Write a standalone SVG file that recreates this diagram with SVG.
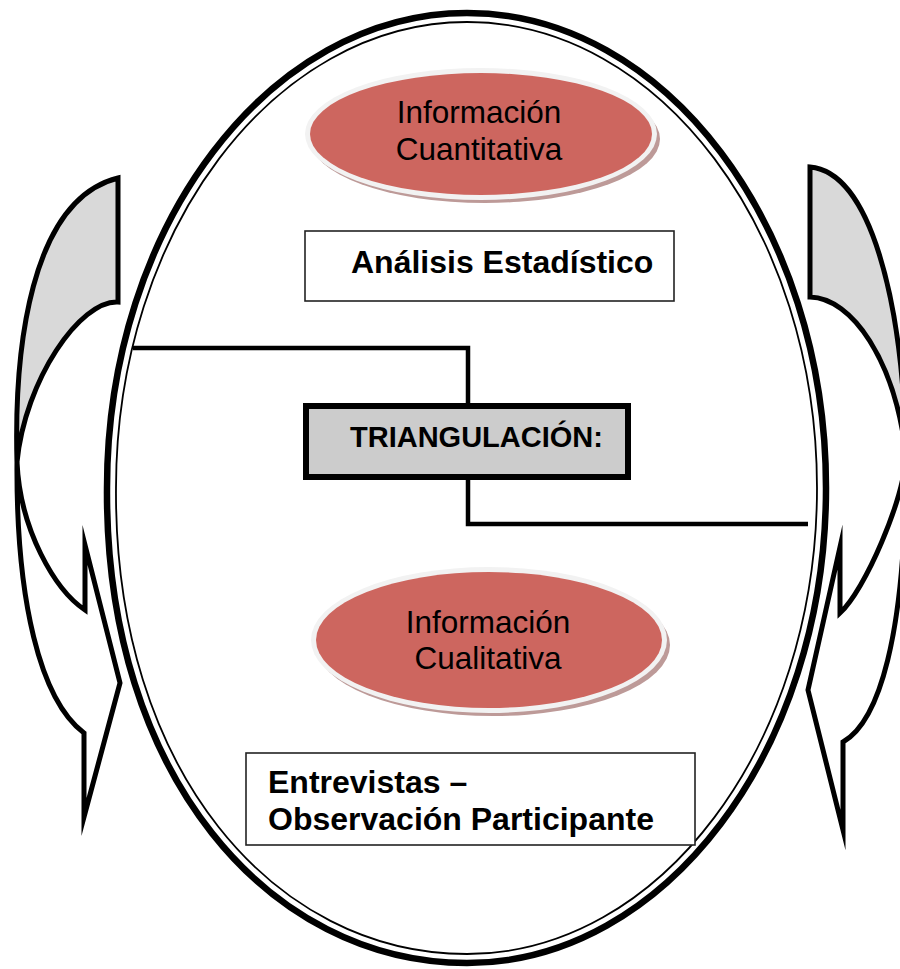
<svg xmlns="http://www.w3.org/2000/svg" width="900" height="969" viewBox="0 0 900 969">
<style>
.arrowShape{stroke:#000;stroke-width:5;stroke-linejoin:miter;stroke-miterlimit:10}
.back{fill:#d9d9d9}
.front{fill:#fff}
.shadow{fill:#bd9a98}
.rim{fill:#f2f2f2}
.red{fill:#cd665f}
.reg{font-family:"Liberation Sans",Arial,sans-serif;font-size:31.5px;fill:#000;text-anchor:middle}
.bold{font-family:"Liberation Sans",Arial,sans-serif;font-weight:bold;fill:#000}
.box{fill:#fff;stroke:#222;stroke-width:1.6}
.conn{fill:none;stroke:#000;stroke-width:4.5}
</style>
<rect width="900" height="969" fill="#fff"/>

<g id="left-arrow">
  <path class="arrowShape back" d="M118,178 L118,302 C80,300 25,380 17,462 C14,350 30,200 118,178 Z"/>
  <path class="arrowShape front" d="M17,462 C20,530 55,590 85,610 L85,545 L120,683 L84,817 L84,733 C40,700 16,600 17,462 Z"/>
</g>

<g id="right-arrow">
  <path class="arrowShape back" d="M810,167 L810,297 C852,298 895,360 906,455 C903,300 870,172 810,167 Z"/>
  <path class="arrowShape front" d="M906,455 C904,500 865,590 840,613 L840,547 L808,690 L843,830 L843,742 C878,722 906,640 906,455 Z"/>
</g>

<g id="outer-oval">
  <path d="M467,13 C665,13 826,226 826,488 C826,750 665,963 467,963 C269,963 105,775 107,488 C107,226 269,13 467,13 Z" fill="#fff" stroke="#000" stroke-width="6.5"/>
  <path d="M467,22 C660,22 817,231 817,488 C817,745 660,954 467,954 C274,954 114,770 116,488 C116,231 274,22 467,22 Z" fill="none" stroke="#000" stroke-width="1.8"/>
</g>

<g id="connectors">
  <polyline class="conn" points="133,348 468,348 468,405"/>
  <polyline class="conn" points="468,478 468,524 808,524"/>
</g>

<g id="info-cuantitativa">
  <ellipse class="shadow" cx="485" cy="139" rx="175" ry="64"/>
  <ellipse class="rim" cx="481" cy="134" rx="176" ry="66"/>
  <ellipse class="red" cx="481" cy="134" rx="171" ry="61"/>
  <text class="reg" x="479" y="123">Información</text>
  <text class="reg" x="479" y="160">Cuantitativa</text>
</g>

<g id="analisis-estadistico">
  <rect class="box" x="305" y="231" width="369" height="70"/>
  <text class="bold" x="351" y="273" font-size="32">Análisis Estadístico</text>
</g>

<g id="triangulacion">
  <rect x="306" y="406" width="322" height="71" fill="#cccccc" stroke="#000" stroke-width="6"/>
  <text class="bold" x="350" y="447" font-size="29">TRIANGULACIÓN:</text>
</g>

<g id="info-cualitativa">
  <ellipse class="shadow" cx="493" cy="645" rx="177" ry="71"/>
  <ellipse class="rim" cx="489" cy="640" rx="178" ry="73"/>
  <ellipse class="red" cx="489" cy="640" rx="173" ry="68"/>
  <text class="reg" x="488" y="633">Información</text>
  <text class="reg" x="488" y="669">Cualitativa</text>
</g>

<g id="entrevistas">
  <rect class="box" x="246" y="753" width="449" height="92"/>
  <text class="bold" x="268" y="793" font-size="32">Entrevistas –</text>
  <text class="bold" x="268" y="830" font-size="32">Observación Participante</text>
</g>
</svg>
